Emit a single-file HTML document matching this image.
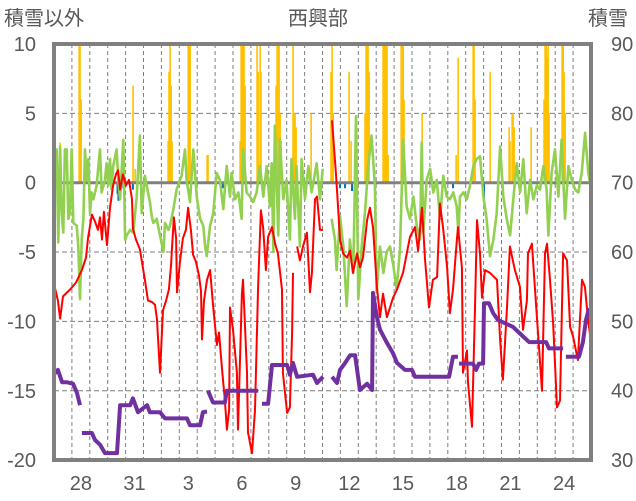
<!DOCTYPE html>
<html><head><meta charset="utf-8">
<style>
html,body{margin:0;padding:0;background:#fff;}
svg{display:block;font-family:"Liberation Sans","Noto Sans CJK JP",sans-serif;}
</style></head>
<body>
<svg id="chart" width="636" height="501" viewBox="0 0 636 501">
  <defs><clipPath id="plotclip"><rect x="54" y="44" width="537" height="416"/></clipPath></defs>
  <g id="grid"></g>
  <g id="marks" clip-path="url(#plotclip)"></g>
  <g id="axes"></g>
  <text x="4" y="25" font-size="20" fill="#595959">積雪以外</text>
  <text x="318" y="25" font-size="20" fill="#595959" text-anchor="middle">西興部</text>
  <text x="588" y="25" font-size="20" fill="#595959">積雪</text>
</svg>
<script>
const leftTicks = [10, 5, 0, -5, -10, -15, -20];
const rightTicks = [90, 80, 70, 60, 50, 40, 30];
const dayLabels = ["28","31","3","6","9","12","15","18","21","24"];
const dayLabelIdx = [1,4,7,10,13,16,19,22,25,28];

const redT = [0,.22,.34,.5,.9,1.23,1.56,1.79,1.9,2.12,2.29,2.46,2.57,2.68,2.79,2.96,3.13,3.3,3.46,3.58,3.69,3.85,4.02,4.19,4.36,4.41,4.58,4.8,5.08,5.25,5.47,5.64,5.75,5.92,6.09,6.26,6.42,6.54,6.59,6.7,6.82,6.87,7.04,7.2,7.37,7.49,7.65,7.77,7.93,8.1,8.21,8.27,8.38,8.55,8.72,8.88,9.1,9.22,9.39,9.55,9.66,9.78,9.83,10.0,10.22,10.28,10.5,10.56,10.78,10.84,11.06,11.23,11.4,11.56,11.68,11.84,11.96,12.18,12.35,12.51,12.74,12.79,13.02,13.18,13.3,13.35,null,13.58,13.74,13.91,14.13,14.3,14.41,14.58,14.69,14.86,15.03,null,15.53,15.75,15.87,15.98,16.15,16.37,16.54,16.7,16.93,17.09,17.26,17.49,17.65,17.82,18.04,18.21,18.38,18.6,18.77,18.94,19.16,19.5,19.89,20.17,20.34,20.56,20.73,20.95,21.17,21.4,21.56,21.73,21.96,22.12,22.29,22.51,22.57,22.79,22.85,23.07,23.13,23.35,23.52,23.63,23.8,23.91,24.08,24.36,24.75,24.92,25.08,25.31,25.47,25.75,26.03,26.2,26.42,26.48,26.7,26.98,27.26,27.43,27.54,27.71,27.88,28.1,28.27,28.44,28.66,28.83,29.0,29.27,29.5,29.66,29.83,30.0];
const redV = [-7.3,-8.5,-9.8,-8.2,-7.7,-7.2,-6.3,-5.4,-4.0,-2.3,-2.8,-3.4,-2.5,-4.1,-2.1,-4.5,-1.8,-0.2,0.6,0.9,-0.5,0.6,-0.2,0.2,-1.2,-3.3,-4.1,-4.8,-7.0,-8.5,-8.6,-8.8,-9.8,-13.7,-9.2,-8.5,-7.7,-5.9,-4.7,-2.5,-4.0,-7.9,-5.7,-4.0,-3.4,-1.8,-3.4,-5.2,-5.7,-6.7,-7.8,-11.3,-8.5,-7.0,-6.3,-8.8,-11.7,-10.8,-13.5,-15.7,-17.8,-16.4,-9.0,-10.6,-13.7,-17.8,-8.0,-7.0,-13.7,-18.0,-19.5,-16.4,-7.5,-2.0,-3.2,-6.3,-3.9,-3.2,-4.4,-5.1,-7.7,-13.7,-16.6,-16.2,-10.8,-6.5,null,-4.6,-5.6,-4.6,-3.6,-7.9,-6.5,-1.2,-1.0,-3.4,-3.4,null,4.5,0.7,-1.8,-4.1,-5.1,-5.4,-4.9,-6.5,-5.1,-6.1,-5.4,-2.7,-1.8,-3.2,-7.5,-9.7,-8.0,-9.7,-9.0,-8.3,-7.7,-6.5,-3.9,-3.2,-4.9,-1.8,-5.6,-9.0,-7.0,-6.8,-1.5,-3.2,-6.1,-9.4,-7.7,-4.1,-3.2,-6.1,-13.7,-12.1,-14.4,-17.6,-9.0,-2.7,-5.1,-8.3,-6.3,-6.5,-7.0,-11.3,-14.2,-9.0,-4.6,-6.3,-7.5,-10.6,-8.5,-5.1,-4.4,-9.7,-15.0,-5.1,-4.4,-7.0,-10.1,-16.2,-15.7,-5.1,-5.6,-10.4,-11.1,-12.8,-7.0,-7.5,-9.8,-11.5];

const greenT = [0,.15,.24,.34,.43,.52,.61,.71,.8,.89,.99,1.08,1.27,1.36,1.45,1.55,1.64,1.73,1.82,1.92,2.01,2.1,2.2,2.38,2.57,2.66,2.85,2.94,3.04,3.13,3.22,3.31,3.5,3.59,3.69,3.87,3.97,4.06,4.25,4.43,4.62,4.8,4.9,5.08,5.18,5.36,5.46,5.55,5.74,5.92,6.11,6.2,6.39,6.48,6.67,6.85,7.04,7.13,7.32,7.41,7.6,7.78,7.97,8.16,8.34,8.44,8.53,8.72,8.9,9.09,9.27,9.46,9.65,9.83,
9.92,10.11,10.3,10.48,10.57,10.76,10.95,11.13,11.32,11.51,11.69,11.88,12.06,12.16,12.25,12.34,12.53,12.62,12.81,12.99,13.18,13.27,13.46,13.55,13.74,13.83,14.02,14.21,14.39,14.58,14.67,14.86,15.01,null,15.51,15.7,15.79,15.98,16.16,16.35,16.53,16.72,16.87,17.0,17.19,17.37,17.56,17.74,17.93,18.02,18.21,18.4,18.58,18.77,18.96,19.14,19.33,19.51,19.7,
19.89,20.08,20.26,20.45,20.54,20.63,20.82,21.01,21.19,21.38,21.57,21.75,21.94,22.12,22.31,22.5,22.59,22.68,22.87,23.06,23.24,23.43,23.61,23.8,23.99,24.17,24.36,24.55,24.73,24.92,25.1,25.29,25.48,25.66,25.85,26.04,26.22,26.41,26.6,26.78,26.97,27.15,27.34,27.52,27.62,27.8,27.99,28.18,28.36,28.55,28.74,28.92,29.11,29.29,29.48,29.67,29.85,30.04];
const greenV = [-1.4,2.4,-4.3,2.6,-2.2,-3.6,2.4,2.4,-2.6,-2.2,2.4,-2.9,-3.1,-4.6,-8.4,-4.1,-2.6,2.4,0.2,1.7,-2.2,-0.7,-1.2,-0.2,2.4,-0.7,0.2,1.4,-0.2,1.7,-0.5,1.2,2.4,0.2,-1.2,3.1,-4.1,-3.8,-3.4,-3.6,-1,3.4,-2.2,0.5,-0.2,-1.4,-2.4,-2.9,-2.6,-3.8,-5,-2.9,-3.4,-3.1,-1.9,-0.5,0.2,0.5,2.4,0.2,-1.4,2.4,-1,-2.6,-3.1,-4.6,-5.3,-3.1,-2.2,0.7,0.2,-1.9,1.2,-1,
0.7,-1.2,-0.7,-2.6,2.4,-0.7,-1,-1.4,-0.7,1.2,-1,1.2,-1.7,1.4,-5,4.1,-3.8,3.1,-1.2,0.2,-4.1,1.7,-2.6,1.2,-4.6,1.7,-1.2,1.2,-0.7,0.7,1.4,-1.2,1,null,-2.6,-4.1,-6.3,-2.4,-4.6,-8.9,-4.1,-6.5,4.8,-8.4,-4.6,-2.2,1.2,3.4,-0.2,-7.9,-4.6,-6.5,-5,-4.6,-6,-7.7,-4.8,3.1,-1.7,
-2.6,-1,-3.1,-4.1,2.9,-3.6,0.2,1,-0.7,0.2,-2.6,0.5,-1,-1.2,-0.7,-1.7,-3.6,-1,-0.7,-1.2,-0.2,1.2,1.7,1.9,-1,-2.6,-5.3,-4.1,-2.2,2.6,-1,-2.6,-3.8,-1.2,1.4,-0.7,1.7,-2.2,0.2,-1.2,-0.2,-0.5,1.2,-0.5,-3.8,0.7,2.4,-1,3.1,-2.6,1.2,0.2,-0.5,-0.7,0.7,3.6,0.7,-0.7];

const snowT = [.06,.22,.45,.73,1.06,1.28,1.45,null,1.56,2.12,2.29,2.57,2.85,3.52,3.69,4.25,4.41,4.69,5.2,5.36,5.92,6.2,7.43,7.6,8.16,8.32,8.55,null,8.6,8.88,9.55,9.66,10.78,11.4,null,11.62,11.96,12.18,13.02,13.18,13.35,13.58,14.47,14.69,15.03,null,15.53,15.81,15.98,16.26,16.54,16.82,17.09,17.49,17.77,17.82,18.04,18.21,18.6,18.94,19.16,19.61,20.0,20.17,21.34,22.07,22.29,22.57,null,22.63,23.41,23.58,23.74,23.97,24.02,24.3,24.53,24.8,25.64,26.09,26.54,27.49,27.65,28.44,null,28.6,29.33,29.55,29.72,29.89];
const snowV = [42.5,43,41.2,41.2,41,39.7,37.9,null,33.9,33.9,32.9,32.2,31,31,37.9,37.9,38.9,36.9,37.9,36.9,36.9,36,36,35,35,36.9,37,null,40,38.3,38.3,40,40,40,null,38.1,38.1,43.7,43.7,42.3,44,42,42.3,41.1,42,null,42,41.1,43,44,45.1,45.1,40.1,41,40.1,54.1,50.6,48.8,46.9,45.4,44,43,43,42,42,42,44.9,44.9,null,43.9,43.9,43,43.9,43.9,52.6,52.6,51.2,50.2,49.2,48.1,47,47,46.1,46.1,null,44.9,44.9,47,50.2,51.9];

const precipT = [.34,1.4,1.45,1.51,4.41,4.53,6.37,6.42,6.48,6.54,6.59,7.49,7.54,7.6,8.55,8.6,10.39,10.45,10.5,10.56,10.61,10.67,11.34,11.4,11.51,11.56,12.35,12.4,12.46,12.51,12.57,12.63,12.68,13.35,13.41,13.46,13.52,14.36,15.47,15.53,15.59,16.48,16.59,17.37,17.43,17.49,17.54,17.6,18.38,18.44,18.49,18.55,18.6,18.66,19.39,19.44,19.5,19.55,20.56,22.46,22.57,23.41,23.46,23.52,24.36,25.42,25.47,25.59,25.64,25.7,26.65,27.37,27.43,27.49,27.54,27.6,27.65,28.38,28.44,28.49,28.55];
const precipV = [2.9,10,10,6,7,1,3,8,10,7,3,10,10,10,2,2,3,10,10,10,10,7,10,8,10,8,3,7,10,10,10,5,3,10,5,5,4,5,8,10,5,8,3,5,10,10,10,8,10,10,10,10,10,2,10,10,10,6,5,2,9,10,10,6,8,4,3,5,5,4,4,6,10,10,9,10,5,10,10,8,5];

const negT = [0.06,0.56,3.55,3.6,3.77,4.41,9.44,15.98,16.26,16.65,17.93,22.29,23.97,24.02];
const negV = [-0.4,-0.3,-0.8,-1.3,-0.4,-0.5,-0.4,-0.4,-0.4,-0.6,-0.6,-0.4,-0.5,-1.2];

const X0 = 54, DAYW = 17.9;
const xs = d => X0 + d * DAYW;
const yL = v => 182.7 - v * 13.87;
const yR = s => 44 + (90 - s) * (416 / 60);
const NS = "http://www.w3.org/2000/svg";
function mk(tag, attrs, parent) {
  const e = document.createElementNS(NS, tag);
  for (const k in attrs) e.setAttribute(k, attrs[k]);
  parent.appendChild(e);
  return e;
}
const grid = document.getElementById('grid');
const marks = document.getElementById('marks');
const axes = document.getElementById('axes');

for (let i = 1; i < 30; i++) {
  const l = mk('line', {x1: xs(i), x2: xs(i), y1: 44, y2: 460, stroke: '#7f7f7f', 'stroke-width': 1, 'stroke-dasharray': '4,3'}, grid);
  
  
}
leftTicks.forEach(t => {
  if (t !== 10 && t !== -20 && t !== 0) {
    const l = mk('line', {x1: 54, x2: 591, y1: yL(t), y2: yL(t), stroke: '#7f7f7f', 'stroke-width': 1, 'stroke-dasharray': '5,3'}, grid);
    
    
  }
  const tx = mk('text', {x: 36, y: yL(t) + 7, 'font-size': 20, fill: '#595959', 'text-anchor': 'end'}, axes);
  tx.textContent = t;
  
  
});
rightTicks.forEach(t => {
  const tx = mk('text', {x: 611, y: yR(t) + 7, 'font-size': 20, fill: '#595959'}, axes);
  tx.textContent = t;
  
  
});
dayLabels.forEach((lab, i) => {
  const tx = mk('text', {x: xs(dayLabelIdx[i] + 0.5), y: 490, 'font-size': 20, fill: '#595959', 'text-anchor': 'middle'}, axes);
  tx.textContent = lab;
  
  
});

precipT.forEach((d, i) => {
  const v = precipV[i];
  const r = mk('rect', {x: xs(d) - 0.7, y: yL(v), width: 1.6, height: yL(0) - yL(v), fill: '#FFC000'}, marks);
  
  
});
negT.forEach((d, i) => {
  const v = negV[i];
  const r = mk('rect', {x: xs(d) - 1, y: yL(0), width: 2, height: yL(v) - yL(0), fill: '#0070C0'}, marks);
  
  
});
function pathFrom(T, V, yf) {
  let d = '', pen = false;
  for (let i = 0; i < T.length; i++) {
    if (T[i] === null || V[i] === null) { pen = false; continue; }
    d += (pen ? 'L' : 'M') + xs(T[i]).toFixed(1) + ' ' + yf(V[i]).toFixed(1);
    pen = true;
  }
  return d;
}
const zl = mk('line', {x1: 54, x2: 591, y1: yL(0), y2: yL(0), stroke: '#808080', 'stroke-width': 3}, marks);


const pg = mk('path', {d: pathFrom(greenT, greenV, yL), fill: 'none', stroke: '#92D050', 'stroke-width': 2.6, 'stroke-linejoin': 'round'}, marks);


const pr = mk('path', {d: pathFrom(redT, redV, yL), fill: 'none', stroke: '#FF0000', 'stroke-width': 2, 'stroke-linejoin': 'round'}, marks);


const pp = mk('path', {d: pathFrom(snowT, snowV, yR), fill: 'none', stroke: '#7030A0', 'stroke-width': 4, 'stroke-linejoin': 'round'}, marks);



const fr = mk('rect', {x: 54, y: 44, width: 537, height: 416, fill: 'none', stroke: '#808080', 'stroke-width': 4}, axes);


</script>
</body></html>
